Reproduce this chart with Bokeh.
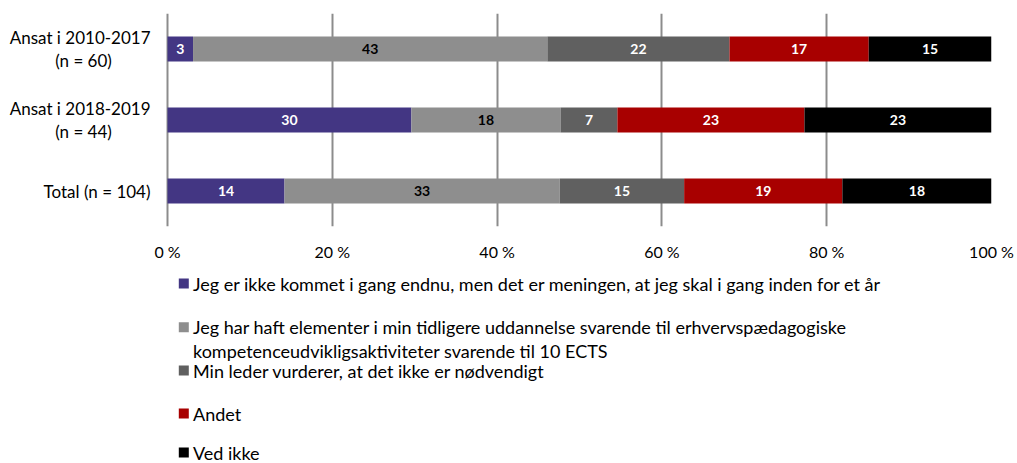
from bokeh.plotting import figure
from bokeh.models import Range1d, FixedTicker, ColumnDataSource
from bokeh.layouts import column
from bokeh.core.properties import value
from bokeh.embed import file_html
from bokeh.resources import INLINE

categories = ["Ansat i 2010-2017 (n = 60)", "Ansat i 2018-2019 (n = 44)", "Total (n = 104)"]
category_lines = [["Ansat i 2010-2017", "(n = 60)"], ["Ansat i 2018-2019", "(n = 44)"], ["Total (n = 104)"]]
series_names = [
    "Jeg er ikke kommet i gang endnu, men det er meningen, at jeg skal i gang inden for et år",
    "Jeg har haft elementer i min tidligere uddannelse svarende til erhvervspædagogiske\nkompetenceudvikligsaktiviteter svarende til 10 ECTS",
    "Min leder vurderer, at det ikke er nødvendigt",
    "Andet",
    "Ved ikke",
]
s1 = [3.1, 29.6, 14.2]
s2 = [43.0, 18.1, 33.4]
s3 = [22.1, 6.9, 15.1]
s4 = [16.9, 22.7, 19.2]
s5 = [14.9, 22.7, 18.1]
series_values = [s1, s2, s3, s4, s5]
colors = ["#433683", "#8e8e8e", "#606060", "#a80000", "#000000"]
label_colors = ["white", "black", "white", "white", "white"]
x_ticks = [0, 20, 40, 60, 80, 100]
x_tick_labels = ["0 %", "20 %", "40 %", "60 %", "80 %", "100 %"]

FONT = "Lato"
W = 1017
H_MAIN = 270
H_LEG = 193
BORDER_R = 26
FRAME_W = W - BORDER_R          # frame spans the full width left of the right border
ZERO_PX = 167                   # where 0 % sits, in pixels from the left
x_start = -ZERO_PX * 100.0 / (FRAME_W - ZERO_PX)
px_per_unit = FRAME_W / (100 - x_start)
n_cat = len(categories)
row_px = (H_MAIN - 13 - 44) / n_cat

p = figure(width=W, height=H_MAIN, output_backend="svg", toolbar_location=None,
           y_range=Range1d(0, n_cat), x_range=Range1d(x_start, 100),
           min_border_left=0, min_border_right=BORDER_R, min_border_top=13, min_border_bottom=44)
p.outline_line_color = None
p.background_fill_color = "white"
p.yaxis.visible = False

ypos = [n_cat - 0.5 - i for i in range(n_cat)]
left = [0.0] * n_cat
for vals, col, lc in zip(series_values, colors, label_colors):
    right = [l + v for l, v in zip(left, vals)]
    mid = [(l + r) / 2 for l, r in zip(left, right)]
    src = ColumnDataSource(dict(y=ypos, left=left, right=right, mid=mid,
                                lab=[str(round(v)) for v in vals]))
    p.hbar(y="y", left="left", right="right", height=0.352, source=src,
           fill_color=col, line_color=None)
    p.text(x="mid", y="y", text="lab", source=src, text_color=lc,
           text_font=value(FONT), text_font_size="14px", text_font_style="bold",
           text_align="center", text_baseline="middle")
    left = right

p.ygrid.grid_line_color = None
p.xgrid.ticker = FixedTicker(ticks=x_ticks)
p.xgrid.grid_line_color = "#8c8c8c"
p.xgrid.grid_line_width = 2
p.xaxis.ticker = FixedTicker(ticks=x_ticks)
p.xaxis.major_label_overrides = {t: l for t, l in zip(x_ticks, x_tick_labels)}
p.xaxis.axis_line_color = None
p.xaxis.major_tick_line_color = None
p.xaxis.minor_tick_line_color = None
p.xaxis.major_tick_out = 0
p.xaxis.major_tick_in = 0
p.xaxis.major_label_text_font = FONT
p.xaxis.major_label_text_font_size = "16px"
p.xaxis.major_label_text_color = "#000000"
p.xaxis.major_label_standoff = 15

# category labels left of the bars
l1x, l1y, l1t = [], [], []
l2x, l2y, l2t = [], [], []
for yc, lines in zip(ypos, category_lines):
    if len(lines) == 1:
        l1x.append(-17 / px_per_unit); l1y.append(yc); l1t.append(lines[0])
    else:
        l1x.append(-17 / px_per_unit); l1y.append(yc + 11.5 / row_px); l1t.append(lines[0])
        l2x.append(-84 / px_per_unit); l2y.append(yc - 11.5 / row_px); l2t.append(lines[1])
p.text(x=l1x, y=l1y, text=l1t, text_font=value(FONT), text_font_size="17px",
       text_color="#000000", text_align="right", text_baseline="middle")
p.text(x=l2x, y=l2y, text=l2t, text_font=value(FONT), text_font_size="17px",
       text_color="#000000", text_align="center", text_baseline="middle")

# legend drawn in its own panel, coordinates in pixels from the page's left and panel's top
leg = figure(width=W, height=H_LEG, output_backend="svg", toolbar_location=None,
             x_range=Range1d(0, FRAME_W), y_range=Range1d(H_LEG, 0),
             x_axis_location=None, y_axis_location=None,
             min_border_left=0, min_border_right=BORDER_R, min_border_top=0, min_border_bottom=0)
leg.outline_line_color = None
leg.grid.visible = False
sq_y = [13, 56.7, 100, 143, 182]
line_gap = 23.3
for name, col, yy in zip(series_names, colors, sq_y):
    leg.rect(x=[183.3], y=[yy], width=10, height=10, fill_color=col, line_color=None)
    lines = name.split("\n")
    leg.text(x=[192.5] * len(lines), y=[yy + i * line_gap for i in range(len(lines))], text=lines,
             text_font=value(FONT), text_font_size="18px", text_color="#000000",
             text_align="left", text_baseline="middle")

layout = column(p, leg, spacing=0)
open("out.html", "w").write(file_html(layout, INLINE))
